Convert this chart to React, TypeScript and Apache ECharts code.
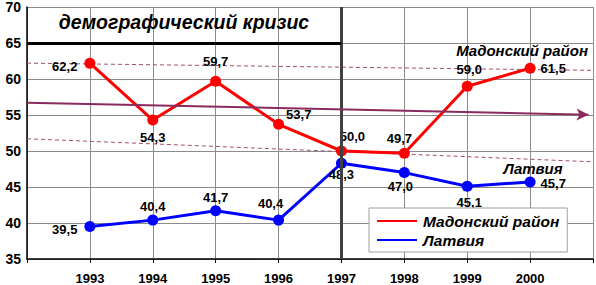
import React, { useEffect, useRef } from "react";
import * as echarts from "echarts";

const years = [1993, 1994, 1995, 1996, 1997, 1998, 1999, 2000];
const madonaValues = [62.2, 54.3, 59.7, 53.7, 50.0, 49.7, 59.0, 61.5];
const latviaValues = [39.5, 40.4, 41.7, 40.4, 48.3, 47.0, 45.1, 45.7];
const trendLine = [[1992, 56.7], [2000.93, 55.05]];
const upperBound = [[1992, 62.2], [2001, 61.2]];
const lowerBound = [[1992, 51.7], [2001, 48.5]];
const crisisYear = 1997;
const crisisLevel = 65;
const seriesNames = ["Мадонский район", "Латвия"];
const crisisTitle = "демографический кризис";

const FONT = 'Arial, "Liberation Sans", sans-serif';

type LabelSpec = { position: string; offset?: number[]; distance?: number };
const madonaLabels: LabelSpec[] = [
  { position: "left", distance: 7, offset: [0, 3] },
  { position: "bottom", distance: 5 },
  { position: "top", distance: 8 },
  { position: "right", distance: 2, offset: [0, -10] },
  { position: "top", distance: 3, offset: [11, 0] },
  { position: "top", distance: 3, offset: [-5, 0] },
  { position: "top", distance: 5, offset: [2, 0] },
  { position: "right", distance: 5 },
];
const latviaLabels: LabelSpec[] = [
  { position: "left", distance: 7, offset: [0, 3] },
  { position: "top", distance: 2 },
  { position: "top", distance: 1 },
  { position: "top", distance: 5, offset: [-8, 0] },
  { position: "bottom", distance: -1 },
  { position: "bottom", distance: 2, offset: [-4, 0] },
  { position: "bottom", distance: 4, offset: [2, 0] },
  { position: "right", distance: 5, offset: [0, 2] },
];

const labelStyle = {
  fontFamily: FONT,
  fontSize: 13,
  fontWeight: "bold",
  color: "#000",
};

function buildData(values: number[], labels: LabelSpec[]) {
  return values.map((v, i) => ({
    value: [years[i], v],
    label: {
      show: true,
      formatter: v.toFixed(1).replace(".", ","),
      ...labelStyle,
      ...labels[i],
    },
  }));
}

export default function App() {
  const ref = useRef<HTMLDivElement>(null);
  useEffect(() => {
    if (!ref.current) return;
    const chart = echarts.init(ref.current, undefined, { renderer: "svg" });
    const option: any = {
      animation: false,
      backgroundColor: "#fff",
      grid: { left: 27, right: 1, top: 5, bottom: 26, containLabel: false },
      xAxis: {
        type: "value",
        min: 1992,
        max: 2001,
        interval: 1,
        axisLine: { show: true, lineStyle: { color: "#000", width: 1.5 } },
        axisTick: { show: true, length: 4, lineStyle: { color: "#000" } },
        splitLine: { show: true, lineStyle: { color: "#8c8c8c", width: 1 } },
        axisLabel: {
          margin: 13,
          fontFamily: FONT,
          fontSize: 13,
          fontWeight: "bold",
          color: "#000",
          formatter: (v: number) => (years.includes(v) ? String(v) : ""),
        },
      },
      yAxis: {
        type: "value",
        min: 35,
        max: 70,
        interval: 5,
        axisLine: { show: true, lineStyle: { color: "#000", width: 1.5 } },
        axisTick: { show: false },
        splitLine: { show: true, lineStyle: { color: "#8c8c8c", width: 1 } },
        axisLabel: {
          margin: 6,
          fontFamily: FONT,
          fontSize: 14,
          fontWeight: "bold",
          color: "#000",
        },
      },
      legend: {
        data: seriesNames,
        left: 369,
        top: 208,
        orient: "vertical",
        backgroundColor: "#fff",
        borderColor: "#a0a0a0",
        borderWidth: 1,
        padding: [5, 8, 4, 8],
        itemGap: 3,
        itemWidth: 40,
        itemHeight: 2,
        icon: "rect",
        textStyle: {
          fontFamily: FONT,
          fontSize: 15.5,
          fontStyle: "italic",
          fontWeight: "bold",
          color: "#000",
          padding: [0, 0, 0, 1],
        },
        z: 10,
      },
      graphic: [
        {
          type: "text",
          x: 184,
          y: 22,
          style: {
            text: crisisTitle,
            fontFamily: FONT,
            fontSize: 19.5,
            fontStyle: "italic",
            fontWeight: "bold",
            fill: "#000",
            textAlign: "center",
            textVerticalAlign: "middle",
          },
          z: 5,
        },
        {
          type: "text",
          x: 588,
          y: 50,
          style: {
            text: seriesNames[0],
            fontFamily: FONT,
            fontSize: 15,
            fontStyle: "italic",
            fontWeight: "bold",
            fill: "#000",
            textAlign: "right",
            textVerticalAlign: "middle",
          },
          z: 5,
        },
        {
          type: "text",
          x: 533,
          y: 168,
          style: {
            text: seriesNames[1],
            fontFamily: FONT,
            fontSize: 15,
            fontStyle: "italic",
            fontWeight: "bold",
            fill: "#000",
            textAlign: "center",
            textVerticalAlign: "middle",
          },
          z: 5,
        },
      ],
      series: [
        {
          name: "crisis",
          type: "line",
          data: [],
          silent: true,
          z: 1,
          markLine: {
            silent: true,
            symbol: ["none", "none"],
            label: { show: false },
            data: [
              [
                { coord: [crisisYear, 35], lineStyle: { color: "#404040", width: 3, type: "solid" } },
                { coord: [crisisYear, 70] },
              ],
              [
                { coord: [1992, crisisLevel], lineStyle: { color: "#000", width: 3, type: "solid" } },
                { coord: [crisisYear, crisisLevel] },
              ],
            ],
          },
        },
        {
          name: "upper",
          type: "line",
          data: upperBound,
          showSymbol: false,
          silent: true,
          z: 2,
          lineStyle: { color: "#a0506e", width: 1, type: [4, 3] },
        },
        {
          name: "lower",
          type: "line",
          data: lowerBound,
          showSymbol: false,
          silent: true,
          z: 2,
          lineStyle: { color: "#a0506e", width: 1, type: [4, 3] },
        },
        {
          name: "trend",
          type: "line",
          data: [],
          silent: true,
          z: 2,
          markLine: {
            silent: true,
            symbol: ["none", "arrow"],
            symbolSize: [9, 12],
            label: { show: false },
            lineStyle: { color: "#8b2a5e", width: 2, type: "solid" },
            data: [
              [{ coord: trendLine[0] }, { coord: trendLine[1] }],
            ],
          },
        },
        {
          name: seriesNames[0],
          type: "line",
          data: buildData(madonaValues, madonaLabels),
          color: "#ff0000",
          symbol: "circle",
          symbolSize: 11,
          lineStyle: { color: "#ff0000", width: 3 },
          itemStyle: { color: "#ff0000" },
          z: 4,
        },
        {
          name: seriesNames[1],
          type: "line",
          data: buildData(latviaValues, latviaLabels),
          color: "#0000ff",
          symbol: "circle",
          symbolSize: 11,
          lineStyle: { color: "#0000ff", width: 3 },
          itemStyle: { color: "#0000ff" },
          z: 4,
        },
      ],
    };
    chart.setOption(option);
    return () => chart.dispose();
  }, []);
  return (
    <div
      ref={ref}
      style={{ position: "fixed", left: 0, top: 0, width: 596, height: 285 }}
    />
  );
}
